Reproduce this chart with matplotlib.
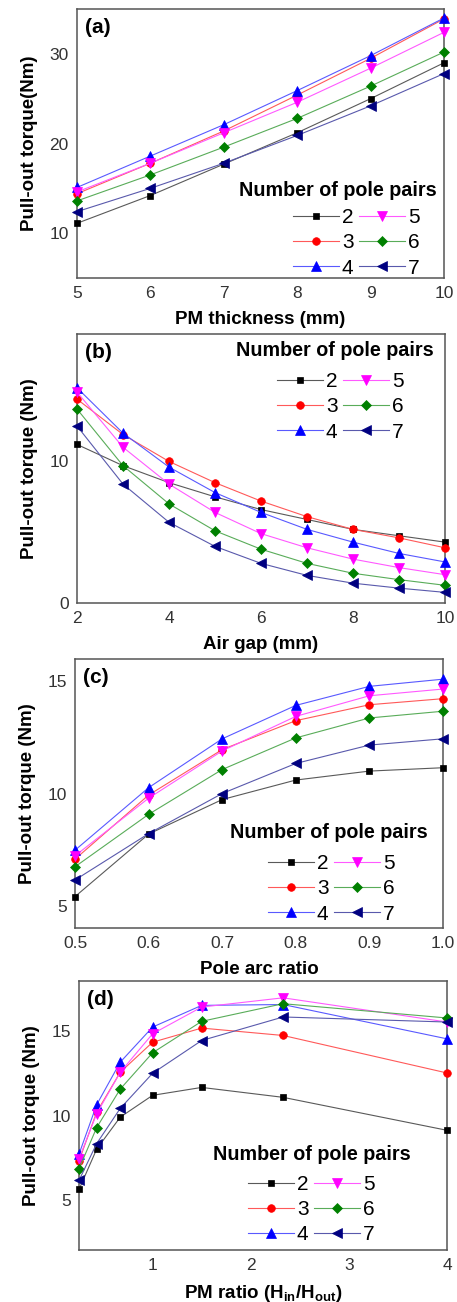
import matplotlib
matplotlib.use("Agg")
import matplotlib.pyplot as plt
from matplotlib.colors import to_rgb

plt.rcParams['font.family'] = ['Liberation Sans', 'DejaVu Sans']

W, H = 457, 1302

pole_pairs = ['2', '3', '4', '5', '6', '7']
colors = ['#000000', '#ff0000', '#0000ff', '#ff00ff', '#008000', '#000080']
markers = ['s', 'o', '^', 'v', 'D', '<']
msizes = [5.0, 5.5, 6.5, 6.5, 5.5, 6.5]

# (a) PM thickness
thick_x = [5, 6, 7, 8, 9, 10]
thick_y = {
    '2': [11.1, 14.2, 17.7, 21.2, 25.0, 29.0],
    '3': [14.4, 17.8, 21.4, 25.4, 29.5, 33.9],
    '4': [15.1, 18.6, 22.1, 25.9, 29.8, 34.0],
    '5': [14.6, 17.8, 21.2, 24.6, 28.4, 32.4],
    '6': [13.6, 16.5, 19.6, 22.8, 26.4, 30.2],
    '7': [12.4, 15.0, 17.8, 20.9, 24.2, 27.8],
}

# (b) Air gap
gap_x = [2, 3, 4, 5, 6, 7, 8, 9, 10]
gap_y = {
    '2': [11.2, 9.7, 8.5, 7.5, 6.6, 5.9, 5.2, 4.75, 4.3],
    '3': [14.4, 11.9, 10.0, 8.5, 7.2, 6.1, 5.2, 4.6, 3.9],
    '4': [15.2, 12.0, 9.6, 7.8, 6.4, 5.2, 4.3, 3.5, 2.9],
    '5': [14.9, 11.0, 8.4, 6.4, 4.9, 3.9, 3.1, 2.5, 2.0],
    '6': [13.7, 9.7, 7.0, 5.1, 3.8, 2.8, 2.1, 1.65, 1.25],
    '7': [12.5, 8.4, 5.7, 4.0, 2.8, 1.95, 1.4, 1.05, 0.75],
}

# (c) Pole arc ratio
arc_x = [0.5, 0.6, 0.7, 0.8, 0.9, 1.0]
arc_y = {
    '2': [5.4, 8.19, 9.73, 10.6, 11.0, 11.15],
    '3': [7.07, 9.93, 11.96, 13.25, 13.96, 14.23],
    '4': [7.47, 10.26, 12.44, 13.93, 14.78, 15.1],
    '5': [7.22, 9.79, 11.9, 13.44, 14.36, 14.66],
    '6': [6.73, 9.07, 11.07, 12.48, 13.37, 13.67],
    '7': [6.14, 8.21, 10.0, 11.34, 12.16, 12.44],
}

# (d) PM ratio
ratio_x = [0.25, 0.43, 0.67, 1.0, 1.5, 2.33, 4.0]
ratio_y = {
    '2': [5.6, 8.0, 9.9, 11.2, 11.67, 11.08, 9.12],
    '3': [7.3, 10.2, 12.57, 14.36, 15.2, 14.76, 12.53],
    '4': [7.7, 10.64, 13.17, 15.26, 16.55, 16.6, 14.56],
    '5': [7.43, 10.1, 12.57, 14.86, 16.45, 17.0, 15.56],
    '6': [6.83, 9.28, 11.57, 13.73, 15.6, 16.65, 15.8],
    '7': [6.14, 8.33, 10.42, 12.51, 14.46, 15.86, 15.56],
}

legend_title = 'Number of pole pairs'

# layout in figure pixels: axes box (left, right, top, bottom),
# legend title centre (x, y), legend entries upper-left (x, y)
panels = [
    dict(box=(77, 444, 9, 278), x=thick_x, y=thick_y, xlim=(5, 10), ylim=(5, 35),
         xticks=[5, 6, 7, 8, 9, 10], yticks=[10, 20, 30], xtl=None,
         xlabel='PM thickness (mm)', ylabel='Pull-out torque(Nm)', tag='(a)',
         title_xy=(338, 190), leg_xy=(293, 208)),
    dict(box=(77, 445, 334, 603), x=gap_x, y=gap_y, xlim=(2, 10), ylim=(0, 19),
         xticks=[2, 4, 6, 8, 10], yticks=[0, 10], xtl=None,
         xlabel='Air gap (mm)', ylabel='Pull-out torque (Nm)', tag='(b)',
         title_xy=(335, 351), leg_xy=(277, 372)),
    dict(box=(75, 443, 659, 928), x=arc_x, y=arc_y, xlim=(0.5, 1.0), ylim=(4, 16),
         xticks=[0.5, 0.6, 0.7, 0.8, 0.9, 1.0], yticks=[5, 10, 15],
         xtl=['0.5', '0.6', '0.7', '0.8', '0.9', '1.0'],
         xlabel='Pole arc ratio', ylabel='Pull-out torque (Nm)', tag='(c)',
         title_xy=(329, 833), leg_xy=(268, 854)),
    dict(box=(79, 447, 981, 1250), x=ratio_x, y=ratio_y, xlim=(0.25, 4), ylim=(2, 18),
         xticks=[1, 2, 3, 4], yticks=[5, 10, 15], xtl=None,
         xlabel='PM ratio (H$_{\\mathregular{in}}$/H$_{\\mathregular{out}}$)',
         ylabel='Pull-out torque (Nm)', tag='(d)',
         title_xy=(312, 1155), leg_xy=(248, 1175)),
]


def lighten(c, f=0.35):
    r, g, b = to_rgb(c)
    return (r + (1 - r) * f, g + (1 - g) * f, b + (1 - b) * f)


fig = plt.figure(figsize=(W / 100, H / 100), dpi=100)

for p in panels:
    l, r, t, b = p['box']
    ax = fig.add_axes([l / W, 1 - b / H, (r - l) / W, (b - t) / H])
    for k, c, m, ms in zip(pole_pairs, colors, markers, msizes):
        ax.plot(p['x'], p['y'][k], color=lighten(c), lw=0.8,
                marker=m, ms=ms, mfc=c, mec=c, mew=0.5, label=k,
                clip_on=False, zorder=3)
    ax.set_xlim(*p['xlim'])
    ax.set_ylim(*p['ylim'])
    ax.set_xticks(p['xticks'])
    if p['xtl'] is not None:
        ax.set_xticklabels(p['xtl'])
    ax.set_yticks(p['yticks'])
    ax.tick_params(length=0, labelsize=12.5, labelcolor='#333333', pad=6)
    for s in ax.spines.values():
        s.set_color('#555555')
        s.set_linewidth(1.1)
    ax.set_xlabel(p['xlabel'], fontsize=13.5, fontweight='bold', labelpad=7)
    ax.set_ylabel(p['ylabel'], fontsize=13.5, fontweight='bold', labelpad=8)
    ax.text(0.022, 0.965, p['tag'], transform=ax.transAxes, fontsize=15,
            fontweight='bold', va='top', ha='left')
    tx, ty = p['title_xy']
    fig.text(tx / W, 1 - ty / H, legend_title, fontsize=14.2, fontweight='bold',
             ha='center', va='center')
    lx, ly = p['leg_xy']
    ax.legend(ncol=2, loc='upper left', bbox_to_anchor=(lx / W, 1 - ly / H),
              bbox_transform=fig.transFigure, frameon=False,
              fontsize=15, handlelength=2.2, handletextpad=0.15,
              columnspacing=0.25, labelspacing=0.3, borderpad=0.0,
              borderaxespad=0.0)

fig.savefig('out.png', dpi=100)
